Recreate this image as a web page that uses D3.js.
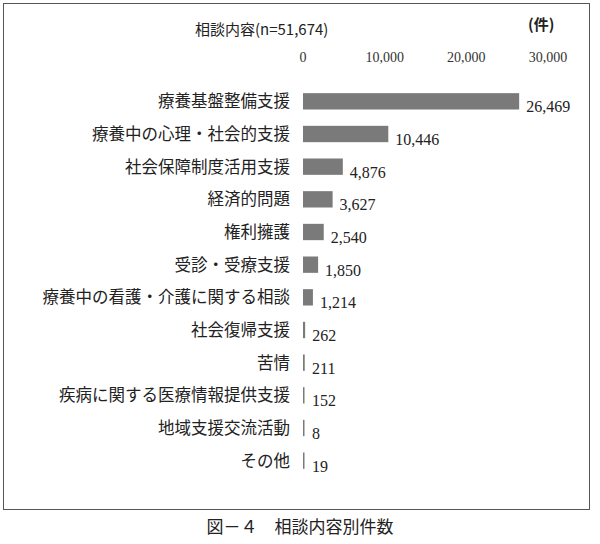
<!DOCTYPE html>
<html><head><meta charset="utf-8">
<script src="https://cdn.jsdelivr.net/npm/d3@7"></script>
<style>body{margin:0;background:#fff}svg{font-family:"Noto Sans CJK JP",sans-serif}</style>
</head><body><svg id="c" width="600" height="544"></svg>
<script>
const categories=["療養基盤整備支援","療養中の心理・社会的支援","社会保障制度活用支援","経済的問題","権利擁護","受診・受療支援","療養中の看護・介護に関する相談","社会復帰支援","苦情","疾病に関する医療情報提供支援","地域支援交流活動","その他"];
const values=[26469,10446,4876,3627,2540,1850,1214,262,211,152,8,19];
const ticks=[0,10000,20000,30000];
const svg=d3.select("#c");
svg.append("rect").attr("x",3.5).attr("y",3.5).attr("width",586).attr("height",506).attr("fill","none").attr("stroke","#555").attr("stroke-width",1);
const x=d3.scaleLinear().domain([0,30000]).range([303,548]);
const y=d3.scaleBand().domain(categories).range([85,477]).paddingInner(0.5).paddingOuter(0.25);
const serif='"Liberation Serif","DejaVu Serif",serif';
svg.append("g").selectAll("text").data(ticks).join("text").attr("x",d=>x(d)).attr("y",62).attr("text-anchor","middle").attr("font-size",14).attr("font-family",serif).attr("fill","#333").text(d=>d3.format(",")(d));
svg.append("text").attr("x",195).attr("y",35).attr("font-size",15).attr("fill","#222").text("相談内容(n=51,674)");
svg.append("text").attr("x",528).attr("y",30).attr("font-size",15).attr("font-weight","bold").attr("fill","#222").text("(件)");
svg.append("g").selectAll("rect").data(values).join("rect").attr("x",x(0)).attr("y",(d,i)=>y(categories[i])).attr("width",d=>Math.max(1.5,x(d)-x(0))).attr("height",y.bandwidth()).attr("fill","#7a7a7a");
svg.append("g").selectAll("text").data(categories).join("text").attr("x",290).attr("y",d=>y(d)+y.bandwidth()/2+6).attr("text-anchor","end").attr("font-size",16.5).attr("fill","#222").text(d=>d);
svg.append("g").selectAll("text").data(values).join("text").attr("x",d=>Math.max(x(d),x(0)+2)+7).attr("y",(d,i)=>y(categories[i])+y.bandwidth()/2+11).attr("font-size",16).attr("font-family",serif).attr("fill","#222").text(d=>d3.format(",")(d));
svg.append("text").attr("x",300).attr("y",533).attr("text-anchor","middle").attr("font-size",17).attr("fill","#222").text("図－４　相談内容別件数");
</script></body></html>
